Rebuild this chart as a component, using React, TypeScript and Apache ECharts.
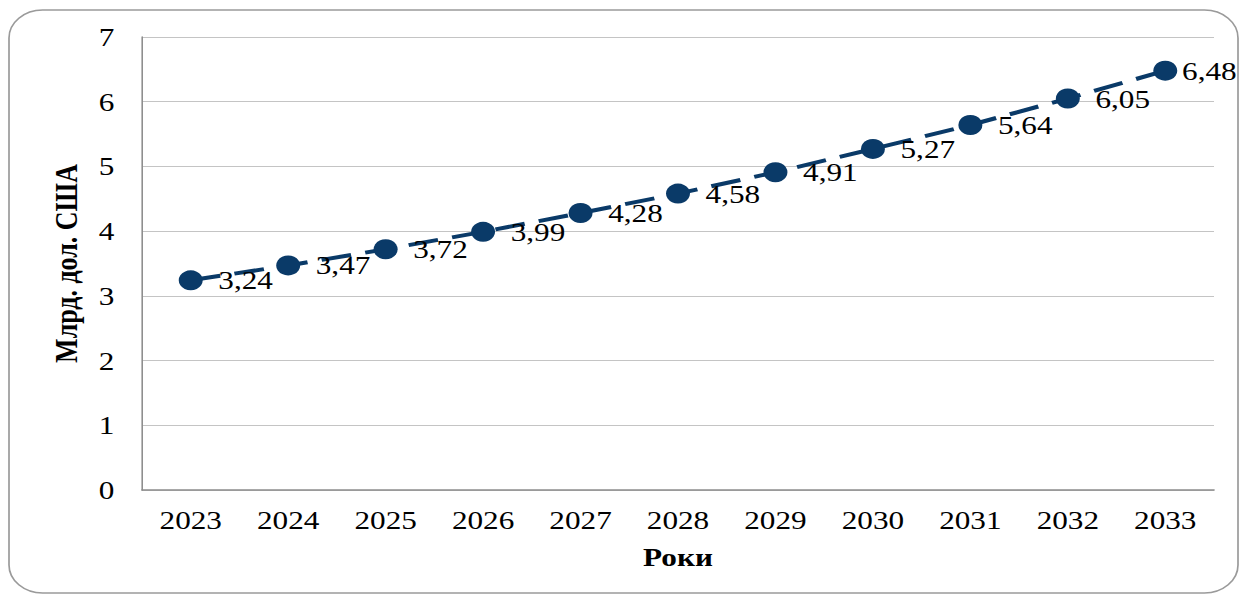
import React, { useEffect, useRef } from "react";
import * as echarts from "echarts";

const years = ["2023", "2024", "2025", "2026", "2027", "2028", "2029", "2030", "2031", "2032", "2033"];
const values = [3.24, 3.47, 3.72, 3.99, 4.28, 4.58, 4.91, 5.27, 5.64, 6.05, 6.48];
const yAxisTitle = "Млрд. дол. США";
const xAxisTitle = "Роки";

const FONT = "'Liberation Serif', 'Times New Roman', serif";
const NAVY = "#0a3a68";
// the reference picture is stretched horizontally; reproduce that with a CSS scale
const SX = 1.2;
const W = 1242;
const H = 596;
const sx = (v: number) => v / SX;

export default function App() {
  const ref = useRef<HTMLDivElement>(null);
  useEffect(() => {
    const chart = echarts.init(ref.current!, null, { renderer: "svg" });
    chart.setOption({
      animation: false,
      backgroundColor: "#ffffff",
      graphic: [
        {
          type: "rect",
          shape: { x: sx(9), y: 10, width: sx(1229), height: 583, r: 28 },
          style: { fill: "none", stroke: "#9a9a9a", lineWidth: 1.4 },
          z: -1,
        },
      ],
      grid: { left: sx(142), right: sx(28), top: 37, bottom: 106 },
      xAxis: {
        type: "category",
        data: years,
        boundaryGap: true,
        name: xAxisTitle,
        nameLocation: "middle",
        nameGap: 54,
        nameTextStyle: { fontFamily: FONT, fontSize: 26, fontWeight: "bold", color: "#000" },
        axisLine: { lineStyle: { color: "#8c8c8c", width: 1.5 } },
        axisTick: { show: false },
        axisLabel: { fontFamily: FONT, fontSize: 26, color: "#000", margin: 17 },
      },
      yAxis: {
        type: "value",
        min: 0,
        max: 7,
        interval: 1,
        name: yAxisTitle,
        nameLocation: "middle",
        nameGap: 50,
        nameRotate: 90,
        nameTextStyle: { fontFamily: FONT, fontSize: 26, fontWeight: "bold", color: "#000" },
        axisLine: { show: true, lineStyle: { color: "#8c8c8c", width: 1.3 } },
        axisTick: { show: false },
        axisLabel: { fontFamily: FONT, fontSize: 26, color: "#000", margin: 23 },
        splitLine: { lineStyle: { color: "#c4c4c4", width: 1 } },
      },
      series: [
        {
          type: "line",
          data: values.map((v, i) =>
            i === values.length - 1 ? { value: v, label: { distance: 4 } } : v
          ),
          symbol: "circle",
          symbolSize: 20,
          itemStyle: { color: NAVY },
          lineStyle: { color: NAVY, width: 4, type: [25, 12] },
          label: {
            show: true,
            position: "right",
            distance: 13,
            fontFamily: FONT,
            fontSize: 26,
            color: "#000",
            formatter: (p: any) => String(p.value).replace(".", ","),
          },
        },
      ],
    });
    return () => chart.dispose();
  }, []);
  return (
    <div
      style={{ position: "fixed", left: 0, top: 0, width: W, height: H, overflow: "hidden", background: "#fff" }}
    >
      <div
        ref={ref}
        style={{ width: W / SX, height: H, transform: `scaleX(${SX})`, transformOrigin: "0 0" }}
      />
    </div>
  );
}
